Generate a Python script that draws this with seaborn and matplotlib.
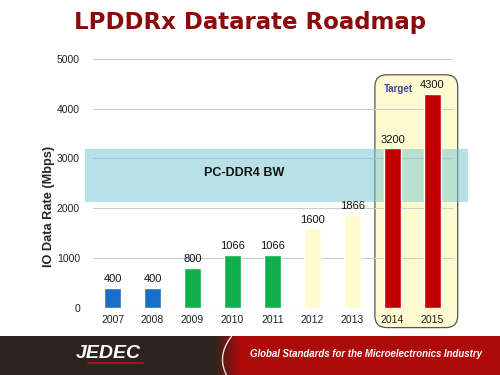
import numpy as np
import pandas as pd
import matplotlib
matplotlib.use("Agg")
import matplotlib.pyplot as plt
from matplotlib.patches import FancyBboxPatch
import seaborn as sns

years = ['2007', '2008', '2009', '2010', '2011', '2012', '2013', '2014', '2015']
rates = [400, 400, 800, 1066, 1066, 1600, 1866, 3200, 4300]
bar_colors = ['#1b6fc6', '#1b6fc6', '#12ad4c', '#12ad4c', '#12ad4c',
              '#fffbcf', '#fffbcf', '#c20000', '#c20000']
ddr4_band = (2120, 3190)
yticks = [0, 1000, 2000, 3000, 4000, 5000]

df = pd.DataFrame({'year': years, 'rate': rates})

sns.set_style('white')
plt.rcParams['font.family'] = ['Liberation Sans', 'DejaVu Sans']

fig = plt.figure(figsize=(5, 3.75), dpi=100)
fig.patch.set_facecolor('white')
ax = fig.add_axes([0.185, 0.1795, 0.72, 0.6635])

sns.barplot(data=df, x='year', y='rate', hue='year', palette=bar_colors,
            legend=False, width=0.42, saturation=1, ax=ax, zorder=3)

for cont in ax.containers:
    ax.bar_label(cont, padding=2.5, fontsize=8, color='#111111')

ax.set_xlim(-0.5, 8.5)
ax.set_ylim(0, 5000)
ax.set_yticks(yticks)
ax.grid(axis='y', color='#cccccc', linewidth=0.8, zorder=0)
ax.set_axisbelow(True)
for s in ax.spines.values():
    s.set_visible(False)
ax.tick_params(axis='both', length=0, labelsize=7.5, colors='#222222')
ax.tick_params(axis='y', pad=9)
ax.tick_params(axis='x', pad=5)
ax.set_xlabel('')
ax.set_ylabel('IO Data Rate (Mbps)', fontsize=9.2, fontweight='bold')
ax.yaxis.set_label_coords(-0.105, 0.405)

# PC-DDR4 bandwidth band
ax.axhspan(ddr4_band[0], ddr4_band[1], xmin=-0.021, xmax=1.042,
           color='#7ccad2', alpha=0.55, lw=0, zorder=1, clip_on=False)
ax.text(3.3, np.mean(ddr4_band) + 50, 'PC-DDR4 BW', fontsize=9,
        fontweight='bold', ha='center', va='center', color='#111111', zorder=4)

# target box around the last two years
box = FancyBboxPatch((6.56, -400), 2.07, 5080,
                     boxstyle='round,pad=0,rounding_size=0.3',
                     mutation_aspect=800, facecolor='#fffbd0',
                     edgecolor='#555555', linewidth=0.9, zorder=0.5,
                     clip_on=False)
ax.add_patch(box)
ax.text(7.16, 4400, 'Target', fontsize=7, fontweight='bold',
        color='#3d4a9c', ha='center', va='center', zorder=4)

fig.text(0.5, 0.94, 'LPDDRx Datarate Roadmap', fontsize=16.5,
         fontweight='bold', color='#8c0a0a', ha='center', va='center',
         family='DejaVu Sans')

# footer banner
fax = fig.add_axes([0, 0, 1, 0.103])
xs = np.linspace(0, 1, 500)
dark = np.array([0.18, 0.14, 0.12])
red = np.array([0.68, 0.04, 0.04])
t = np.clip((xs - 0.43) / 0.05, 0, 1)[:, None]
row = dark * (1 - t) + red * t
grad = np.repeat(row[None, :, :], 20, axis=0)
fax.imshow(grad, aspect='auto', extent=[0, 1, 0, 1])
arc_y = np.linspace(0, 1, 50)
fax.plot(0.445 + 0.05 * (arc_y - 0.4) ** 2, arc_y, color='white',
         lw=1.0, alpha=0.85)
fax.set_xlim(0, 1)
fax.set_ylim(0, 1)
fax.axis('off')
fax.text(0.216, 0.55, 'JEDEC', fontsize=14, fontweight='bold', style='italic',
         color='white', ha='center', va='center')
fax.plot([0.175, 0.285], [0.3, 0.3], color='#b01515', lw=1.2)
fax.text(0.733, 0.55, 'Global Standards for the Microelectronics Industry',
         fontsize=6.9, fontweight='bold', style='italic', color='white',
         ha='center', va='center')

fig.savefig('out.png', dpi=100)
